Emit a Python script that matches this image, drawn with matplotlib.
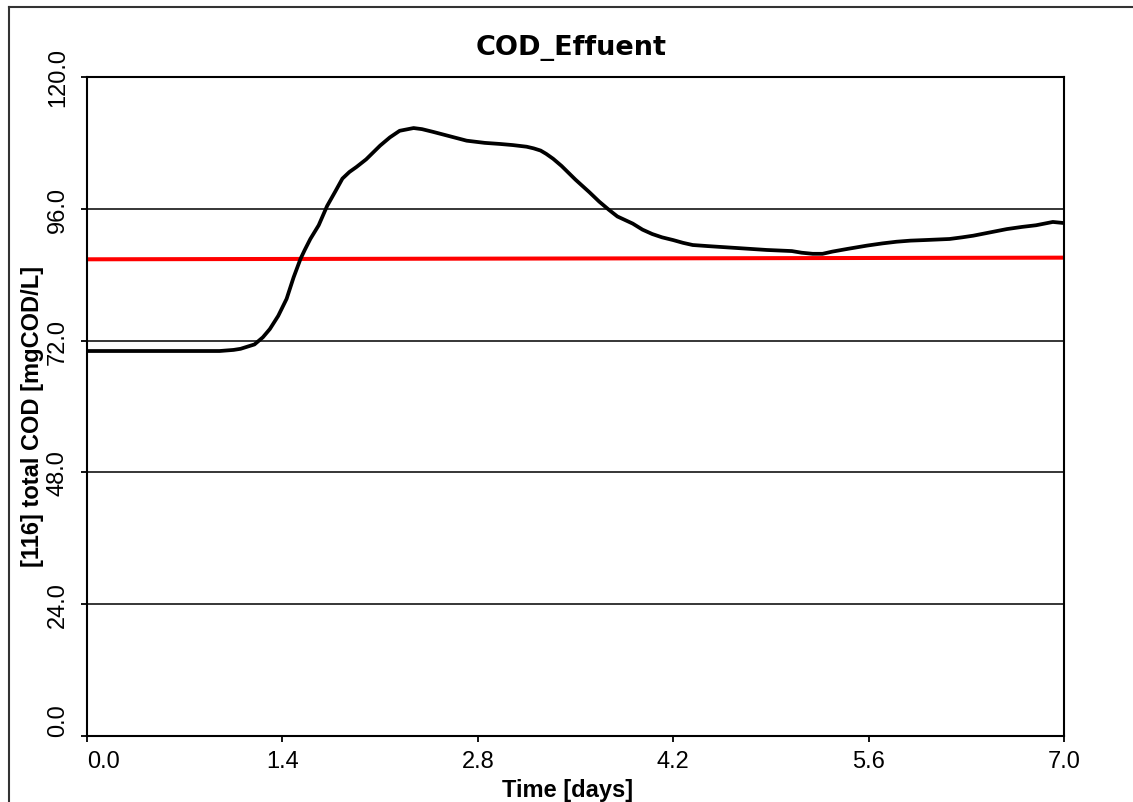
import numpy as np
import matplotlib
matplotlib.use('Agg')
import matplotlib.pyplot as plt
from matplotlib.lines import Line2D

# simulated effluent COD over one week
time_days = [0.0, 0.5, 0.95, 1.05, 1.1, 1.2, 1.26, 1.31, 1.37, 1.43, 1.48, 1.53, 1.56,
             1.60, 1.66, 1.72, 1.78, 1.83, 1.88, 1.93, 2.00, 2.10, 2.17, 2.24, 2.34,
             2.40, 2.48, 2.60, 2.72, 2.85, 2.96, 3.05, 3.15, 3.20, 3.25, 3.29, 3.34,
             3.40, 3.50, 3.60, 3.67, 3.74, 3.80, 3.91, 3.98, 4.05, 4.12, 4.20, 4.27,
             4.34, 4.45, 4.63, 4.75, 4.87, 5.05, 5.12, 5.20, 5.27, 5.34, 5.45, 5.59,
             5.70, 5.80, 5.90, 6.00, 6.09, 6.18, 6.27, 6.35, 6.47, 6.59, 6.70, 6.80,
             6.92, 7.0]
cod_total = [70.1, 70.1, 70.1, 70.3, 70.5, 71.3, 72.6, 74.1, 76.5, 79.6, 83.5, 86.9, 88.5,
             90.5, 93.0, 96.5, 99.2, 101.5, 102.7, 103.6, 105.0, 107.5, 109.0, 110.2, 110.7,
             110.5, 110.0, 109.2, 108.4, 108.0, 107.8, 107.6, 107.3, 107.0, 106.6, 106.0, 105.1,
             103.8, 101.3, 99.0, 97.3, 95.8, 94.6, 93.3, 92.2, 91.4, 90.8, 90.3, 89.8,
             89.4, 89.2, 88.9, 88.7, 88.5, 88.3, 88.0, 87.8, 87.8, 88.2, 88.7, 89.3,
             89.7, 90.0, 90.2, 90.3, 90.4, 90.5, 90.8, 91.1, 91.7, 92.3, 92.7, 93.0,
             93.6, 93.4]

# discharge limit line
limit_days = [0.0, 7.0]
limit_cod = [86.8, 87.1]

x_ticks = [0.0, 1.4, 2.8, 4.2, 5.6, 7.0]
y_ticks = [0.0, 24.0, 48.0, 72.0, 96.0, 120.0]

fig = plt.figure(figsize=(11.33, 8.03), dpi=100)
ax = fig.add_axes([0.0768, 0.0822, 0.8623, 0.8207])

for y in y_ticks[1:-1]:
    ax.axhline(y, color='black', lw=1.1, zorder=1)

ax.plot(limit_days, limit_cod, color='#ff0000', lw=2.9, zorder=2)
ax.plot(time_days, cod_total, color='black', lw=2.7, zorder=3,
        solid_joinstyle='round', solid_capstyle='butt')

ax.set_xlim(0, 7)
ax.set_ylim(0, 120)
ax.set_xticks(x_ticks)
ax.set_yticks(y_ticks)
ax.set_xticklabels(['%.1f' % v for v in x_ticks], fontfamily='Liberation Sans', fontsize=17)
ax.set_yticklabels(['%.1f' % v for v in y_ticks], fontfamily='Liberation Sans', fontsize=17,
                   rotation=90, va='center')
ax.tick_params(axis='both', direction='out', length=4, width=1.3, color='black')
ax.tick_params(axis='x', pad=6)
ax.tick_params(axis='y', pad=9)
ax.get_xticklabels()[0].set_ha('left')
ax.get_yticklabels()[0].set_va('bottom')
for s in ax.spines.values():
    s.set_linewidth(1.5)
    s.set_color('black')

fig.text(0.504, 0.940, 'COD_Effuent', fontfamily='DejaVu Sans', fontweight='bold',
         fontsize=19.5, ha='center', va='center')
fig.text(0.5005, 0.016, 'Time [days]', fontfamily='Liberation Sans', fontweight='bold',
         fontsize=17, ha='center', va='center')
fig.text(0.029, 0.482, '[116] total COD [mgCOD/L]', fontfamily='Liberation Sans',
         fontweight='bold', fontsize=17, rotation=90, ha='center', va='center')

# window frame on the left and top
fig.add_artist(Line2D([0.008, 0.008], [0.0, 0.990], transform=fig.transFigure,
                      color='#333333', lw=1.5))
fig.add_artist(Line2D([0.008, 1.0], [0.990, 0.990], transform=fig.transFigure,
                      color='#333333', lw=1.5))

fig.savefig('out.png', dpi=100)
